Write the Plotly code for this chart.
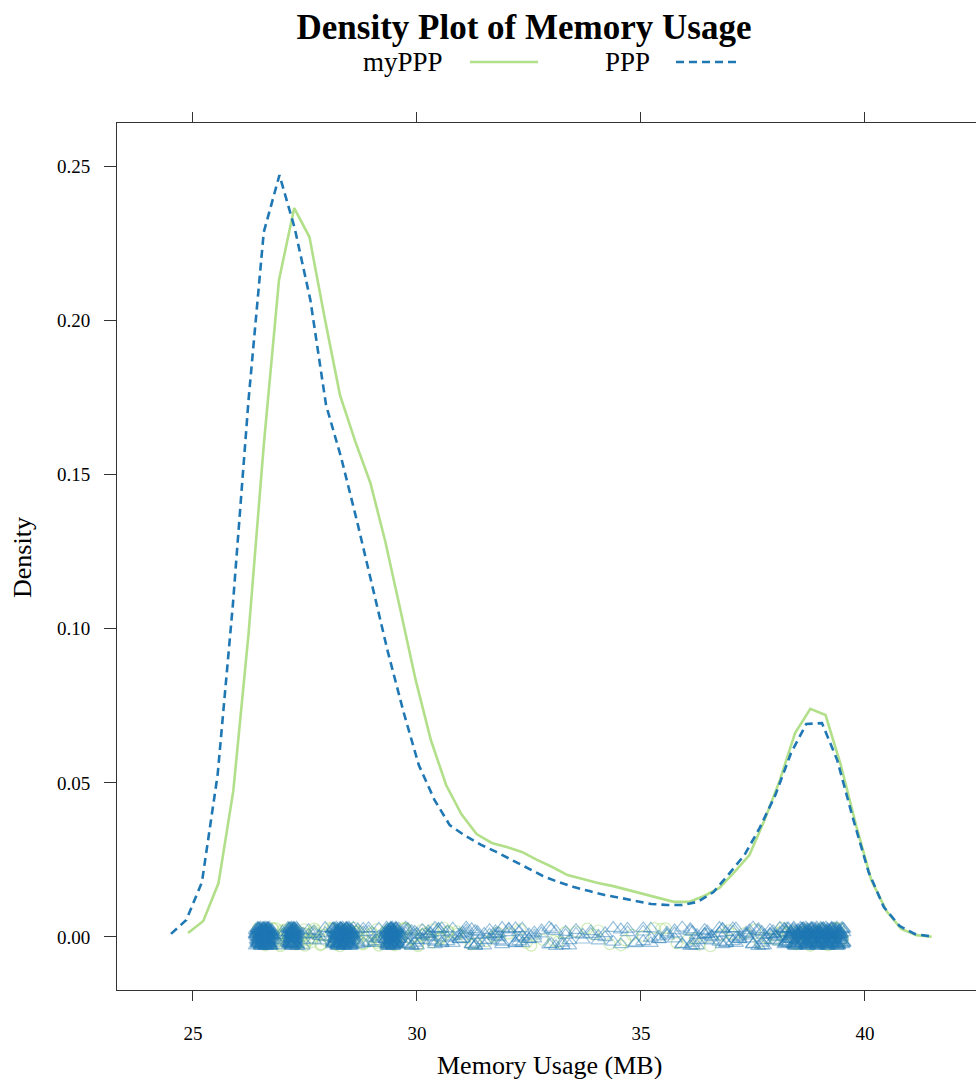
import plotly.graph_objects as go

# ---------------- data ----------------
# density curves (x in MB, density)
ppp_x = [24.51, 24.85, 25.20, 25.55, 25.89, 26.24, 26.58, 26.93, 27.27, 27.62,
         27.97, 28.31, 28.66, 29.00, 29.35, 29.70, 30.04, 30.39, 30.73, 31.08,
         31.43, 31.77, 32.12, 32.46, 32.81, 33.16, 33.50, 33.85, 34.19, 34.54,
         34.89, 35.23, 35.58, 35.92, 36.27, 36.62, 36.96, 37.31, 37.65, 38.00,
         38.35, 38.69, 39.04, 39.38, 39.73, 40.08, 40.42, 40.77, 41.11, 41.46]
ppp_d = [0.0010, 0.0055, 0.0178, 0.0526, 0.1077, 0.1742, 0.2287, 0.2472, 0.2300, 0.2067,
         0.1726, 0.1554, 0.1350, 0.1145, 0.0925, 0.0730, 0.0558, 0.0445, 0.0363, 0.0328,
         0.0299, 0.0276, 0.0250, 0.0224, 0.0198, 0.0178, 0.0162, 0.0149, 0.0136, 0.0127,
         0.0117, 0.0107, 0.0104, 0.0104, 0.0114, 0.0146, 0.0204, 0.0266, 0.0354, 0.0461,
         0.0597, 0.0691, 0.0694, 0.0574, 0.0386, 0.0211, 0.0097, 0.0036, 0.0010, 0.0002]

myppp_x = [24.89, 25.23, 25.57, 25.90, 26.24, 26.58, 26.92, 27.26, 27.60, 27.94,
           28.28, 28.62, 28.96, 29.29, 29.63, 29.97, 30.31, 30.65, 30.99, 31.33,
           31.67, 32.00, 32.34, 32.68, 33.02, 33.36, 33.70, 34.04, 34.38, 34.71,
           35.05, 35.39, 35.73, 36.07, 36.41, 36.75, 37.09, 37.42, 37.76, 38.10,
           38.44, 38.78, 39.12, 39.46, 39.80, 40.14, 40.48, 40.81, 41.15, 41.49]
myppp_d = [0.0013, 0.0052, 0.0175, 0.0474, 0.0983, 0.1596, 0.2132, 0.2365, 0.2271, 0.2008,
           0.1759, 0.1609, 0.1473, 0.1285, 0.1061, 0.0834, 0.0639, 0.0493, 0.0399, 0.0334,
           0.0305, 0.0292, 0.0276, 0.0250, 0.0227, 0.0201, 0.0188, 0.0175, 0.0165, 0.0152,
           0.0140, 0.0127, 0.0114, 0.0114, 0.0133, 0.0159, 0.0211, 0.0266, 0.0380, 0.0509,
           0.0662, 0.0740, 0.0720, 0.0558, 0.0363, 0.0185, 0.0084, 0.0026, 0.0006, 0.0001]

# raw observations (MB) and how many times each value was observed
ppp_obs = [26.40, 26.42, 26.44, 26.45, 26.47, 26.48, 26.50, 26.51, 26.52, 26.53,
           26.55, 26.56, 26.57, 26.58, 26.59, 26.60, 26.61, 26.62, 26.63, 26.64,
           26.65, 26.66, 26.67, 26.68, 26.69, 26.70, 26.72, 26.74, 26.76, 26.79,
           27.12, 27.14, 27.16, 27.18, 27.19, 27.20, 27.21, 27.22, 27.23, 27.24,
           27.25, 27.26, 27.27, 27.29, 27.31, 27.33,
           26.90, 27.00, 27.45, 27.58, 27.70, 27.82, 27.95,
           28.12, 28.14, 28.16, 28.18, 28.20, 28.22, 28.24, 28.25, 28.27, 28.28,
           28.30, 28.31, 28.33, 28.34, 28.36, 28.37, 28.39, 28.40, 28.42, 28.43,
           28.45, 28.46, 28.48, 28.50, 28.52, 28.54, 28.56, 28.58,
           28.68, 28.80, 28.92, 29.05, 29.15,
           29.30, 29.32, 29.34, 29.36, 29.38, 29.40, 29.41, 29.42, 29.43, 29.44,
           29.45, 29.46, 29.47, 29.48, 29.50, 29.52, 29.54, 29.56, 29.59, 29.62,
           29.75, 29.80, 29.88, 29.95, 30.00, 30.12, 30.25, 30.30, 30.40, 30.48,
           30.55, 30.68, 30.80, 30.95, 31.02, 31.10, 31.22, 31.30, 31.35, 31.50,
           31.62, 31.75, 31.82, 31.90, 32.05, 32.20, 32.28, 32.35, 32.50, 32.62,
           32.78, 32.95, 33.00, 33.10, 33.25, 33.32, 33.40, 33.55, 33.70, 33.88,
           34.05, 34.20, 34.38, 34.55, 34.70, 34.88, 35.05, 35.22, 35.40, 35.58,
           35.75, 35.92, 36.10, 36.15, 36.25, 36.42, 36.48, 36.58, 36.75, 36.82,
           36.90, 37.05, 37.12, 37.20, 37.35, 37.42, 37.50, 37.62, 37.70, 37.75,
           37.88, 37.95, 38.00, 38.10,
           38.20, 38.23, 38.26, 38.29, 38.32, 38.35, 38.38, 38.41, 38.44, 38.47,
           38.50, 38.53, 38.56, 38.59, 38.62, 38.65, 38.68, 38.71, 38.74, 38.77,
           38.80, 38.83, 38.86, 38.89, 38.92, 38.95, 38.98, 39.01, 39.04, 39.07,
           39.10, 39.13, 39.16, 39.19, 39.22, 39.25, 39.28, 39.31, 39.34, 39.37,
           39.40, 39.43, 39.46, 39.49, 39.52]
ppp_count = [4, 4, 5, 5, 5, 5, 5, 5, 5, 5,
             5, 5, 5, 5, 5, 5, 5, 5, 5, 5,
             5, 5, 5, 5, 5, 5, 5, 4, 4, 3,
             4, 4, 5, 5, 5, 5, 5, 5, 5, 5,
             5, 5, 5, 5, 4, 4,
             2, 2, 3, 2, 3, 2, 3,
             4, 4, 5, 5, 5, 5, 5, 5, 5, 5,
             5, 5, 5, 5, 5, 5, 5, 5, 5, 5,
             5, 5, 5, 5, 5, 4, 4, 4,
             3, 3, 3, 3, 3,
             4, 4, 5, 5, 5, 5, 5, 5, 5, 5,
             5, 5, 5, 5, 5, 5, 5, 4, 4, 4,
             3, 3, 3, 3, 3, 3, 3, 3, 3, 3,
             3, 3, 3, 3, 3, 3, 3, 3, 3, 3,
             3, 3, 3, 3, 3, 3, 3, 3, 3, 3,
             2, 2, 2, 2, 2, 2, 2, 2, 2, 2,
             2, 2, 2, 2, 2, 2, 3, 3, 3, 3,
             3, 3, 3, 3, 3, 3, 3, 3, 3, 3,
             3, 3, 3, 3, 3, 3, 3, 3, 3, 3,
             3, 3, 3, 3,
             3, 3, 3, 3, 3, 3, 3, 4, 4, 4,
             4, 4, 5, 5, 6, 6, 6, 6, 6, 6,
             6, 6, 6, 6, 6, 6, 6, 6, 6, 6,
             6, 6, 6, 6, 6, 6, 6, 6, 6, 6,
             6, 5, 5, 4, 4]

myppp_obs = [26.45, 26.55, 26.62, 26.70, 26.78, 26.85, 26.92, 26.95, 27.00, 27.03,
             27.06, 27.12, 27.18, 27.24, 27.27, 27.30, 27.36, 27.42, 27.48, 27.50,
             27.58, 27.66, 27.71, 27.75, 27.85, 27.95, 28.05, 28.12, 28.15, 28.20,
             28.28, 28.36, 28.40, 28.44, 28.52, 28.60, 28.64, 28.70, 28.80, 28.90,
             29.00, 29.10, 29.15, 29.20, 29.30, 29.40, 29.44, 29.50, 29.62, 29.70,
             29.75, 29.88, 30.02, 30.10, 30.18, 30.35, 30.52, 30.60, 30.70, 30.90,
             31.10, 31.20, 31.30, 31.55, 31.70, 31.80, 32.05, 32.30, 32.45, 32.55,
             32.80, 33.05, 33.15, 33.30, 33.55, 33.80, 33.95, 34.05, 34.30, 34.55,
             34.65, 34.80, 35.05, 35.30, 35.45, 35.55, 35.80, 36.05, 36.20, 36.30,
             36.55, 36.80, 36.95, 37.05, 37.30, 37.55, 37.65, 37.80, 38.00, 38.15,
             38.28, 38.38, 38.46, 38.54, 38.62, 38.70, 38.78, 38.86, 38.94, 39.02,
             39.10, 39.18, 39.26, 39.34, 39.42, 39.50]
myppp_count = [2, 2, 2, 2, 2, 2, 2, 2, 2, 2,
               2, 2, 2, 2, 2, 2, 2, 2, 2, 2,
               2, 2, 2, 2, 2, 2, 2, 2, 2, 2,
               2, 2, 2, 2, 2, 2, 2, 2, 2, 2,
               2, 2, 2, 2, 2, 2, 2, 2, 2, 2,
               2, 2, 2, 2, 2, 2, 2, 2, 2, 2,
               1, 1, 1, 1, 1, 1, 1, 1, 1, 1,
               1, 1, 1, 1, 1, 1, 1, 1, 1, 1,
               1, 1, 1, 1, 1, 1, 1, 1, 1, 1,
               1, 1, 1, 1, 1, 1, 1, 1, 2, 2,
               2, 2, 2, 2, 2, 2, 2, 2, 2, 2,
               2, 2, 2, 2, 2, 2]

# vertical jitter offsets (density units) applied to the observation points
jitter = [0.0012, -0.0021, 0.0027, -0.0005, 0.0019, -0.0028, 0.0003, 0.0024, -0.0014, 0.0008,
          -0.0025, 0.0016, -0.0009, 0.0029, -0.0018, 0.0001, 0.0021, -0.0030, 0.0010, -0.0012,
          0.0026, -0.0003, 0.0014, -0.0023, 0.0006, 0.0018, -0.0016, 0.0028, -0.0007, 0.0011,
          -0.0027, 0.0022, -0.0001, 0.0015, -0.0020, 0.0004, 0.0025, -0.0011, 0.0009, -0.0024,
          0.0017, -0.0008, 0.0030, -0.0019, 0.0007]

x_ticks = [25, 30, 35, 40]
y_ticks = [0.00, 0.05, 0.10, 0.15, 0.20, 0.25]
y_ticklabels = ["0.00", "0.05", "0.10", "0.15", "0.20", "0.25"]

GREEN = "#B2DF8A"
BLUE = "#1F78B4"
FONT = "Liberation Serif"
FRAME = "#333333"


def expand(values, counts, step, offset):
    xs, ys = [], []
    k = 0
    for v, c in zip(values, counts):
        for _ in range(c):
            xs.append(v)
            ys.append(jitter[(k * step + offset) % len(jitter)])
            k += 1
    return xs, ys


# ---------------- figure ----------------
fig = go.Figure()

gx, gy = expand(myppp_obs, myppp_count, 7, 2)
bx, by = expand(ppp_obs, ppp_count, 13, 5)

fig.add_trace(go.Scatter(
    x=gx, y=gy, mode="markers", showlegend=False, hoverinfo="skip",
    marker=dict(symbol="circle-open", size=11, color="rgba(178,223,138,0.6)",
                line=dict(width=1.2))))
fig.add_trace(go.Scatter(
    x=bx, y=by, mode="markers", showlegend=False, hoverinfo="skip",
    marker=dict(symbol="triangle-up-open", size=13, color="rgba(31,120,180,0.45)",
                line=dict(width=1.2))))
fig.add_trace(go.Scatter(
    x=myppp_x, y=myppp_d, mode="lines", name="myPPP", showlegend=False,
    line=dict(color=GREEN, width=2.6)))
fig.add_trace(go.Scatter(
    x=ppp_x, y=ppp_d, mode="lines", name="PPP", showlegend=False,
    line=dict(color=BLUE, width=2.6, dash="8px,5px")))

W, H = 976, 1079
L, R, T, B = 117, 0, 123, 89
pw, ph = W - L - R, H - T - B


def px2paper(px, py):
    return (px - L) / pw, (H - B - py) / ph


# manual legend (text then line sample)
lx1, ly = px2paper(445, 62)
fig.add_annotation(x=lx1, y=ly, xref="paper", yref="paper", text="myPPP",
                   showarrow=False, xanchor="right", yanchor="middle",
                   font=dict(family=FONT, size=27, color="black"))
a, _ = px2paper(470, 62)
b, _ = px2paper(538, 62)
fig.add_shape(type="line", xref="paper", yref="paper", x0=a, x1=b, y0=ly, y1=ly,
              line=dict(color=GREEN, width=2.6))
lx2, _ = px2paper(652, 62)
fig.add_annotation(x=lx2, y=ly, xref="paper", yref="paper", text="PPP",
                   showarrow=False, xanchor="right", yanchor="middle",
                   font=dict(family=FONT, size=27, color="black"))
a, _ = px2paper(676, 62)
b, _ = px2paper(740, 62)
fig.add_shape(type="line", xref="paper", yref="paper", x0=a, x1=b, y0=ly, y1=ly,
              line=dict(color=BLUE, width=2.6, dash="8px,5px"))

# axis titles
tx, ty = px2paper(22, 558)
fig.add_annotation(x=tx, y=ty, xref="paper", yref="paper", text="Density",
                   showarrow=False, textangle=-90, xanchor="center", yanchor="middle",
                   font=dict(family=FONT, size=26, color="black"))
tx, ty = px2paper(549, 1065)
fig.add_annotation(x=tx, y=ty, xref="paper", yref="paper", text="Memory Usage (MB)",
                   showarrow=False, xanchor="center", yanchor="middle",
                   font=dict(family=FONT, size=26, color="black"))

fig.update_layout(
    width=W, height=H,
    margin=dict(l=L, r=R, t=T, b=B, pad=0),
    paper_bgcolor="white", plot_bgcolor="white",
    title=dict(text="<b>Density Plot of Memory Usage</b>", x=524 / W, xanchor="center",
               y=1 - 27 / H, yanchor="middle",
               font=dict(family=FONT, size=35, color="black")),
    font=dict(family=FONT, color="black"),
    xaxis=dict(range=[23.304, 42.478], tickvals=x_ticks, ticktext=[str(v) for v in x_ticks],
               ticks="outside", ticklen=10, tickwidth=1, tickcolor=FRAME,
               showline=True, linecolor=FRAME, linewidth=1, mirror="ticks",
               showgrid=False, zeroline=False, ticklabelstandoff=16,
               tickfont=dict(family=FONT, size=19, color="black")),
    yaxis=dict(range=[-0.0172, 0.2641], tickvals=y_ticks, ticktext=y_ticklabels,
               ticks="outside", ticklen=12, tickwidth=1, tickcolor=FRAME,
               showline=True, linecolor=FRAME, linewidth=1, mirror=False,
               showgrid=False, zeroline=False, ticklabelstandoff=10,
               tickfont=dict(family=FONT, size=19, color="black")),
)

fig.write_html("out.html")
